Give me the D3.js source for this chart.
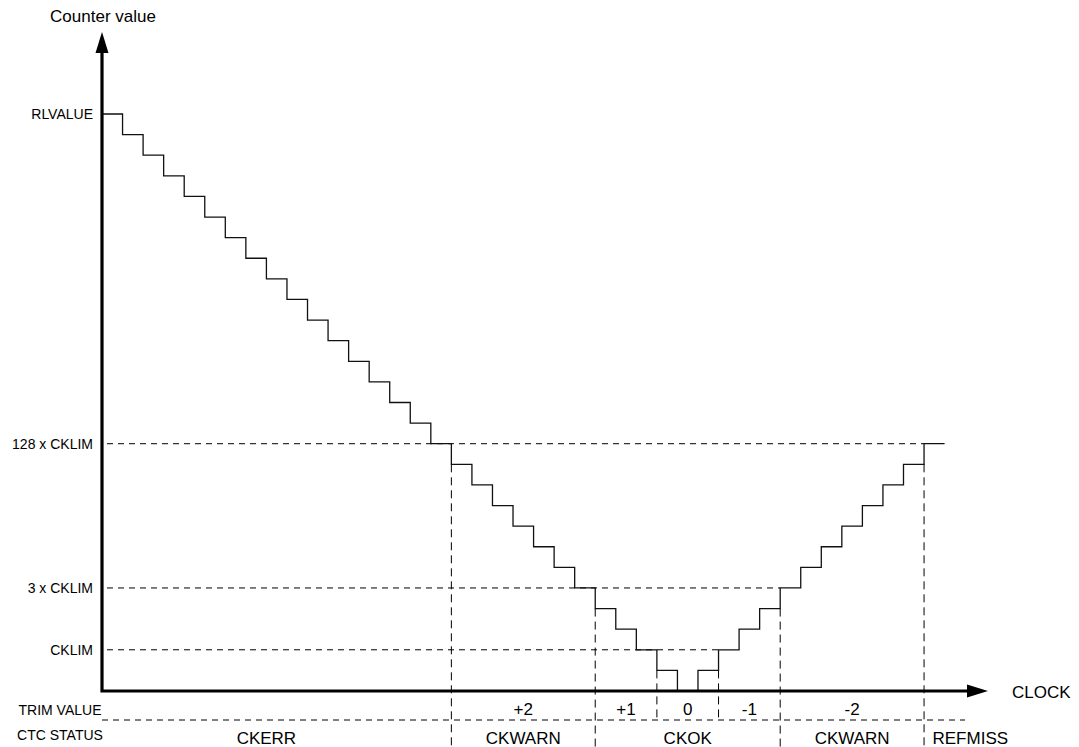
<!DOCTYPE html>
<html>
<head>
<meta charset="utf-8">
<script src="https://cdn.jsdelivr.net/npm/d3@7"></script>
<style>
  body { margin: 0; background: #fff; }
  text { font-family: "Liberation Sans", Arial, sans-serif; fill: #000; }
</style>
</head>
<body>
<div id="chart"></div>
<script>
// Counter value during each clock period (in steps of CKLIM-ish units)
const counterValues = [28, 27, 26, 25, 24, 23, 22, 21, 20, 19, 18, 17, 16, 15, 14, 13, 12,
  11, 10, 9, 8, 7, 6, 5,
  4, 3, 2, 1, 0,
  1, 2, 3, 4, 5, 6, 7, 8, 9, 10, 11,
  12];

// Named levels on the counter axis
const levelNames = ["CKLIM", "3 x CKLIM", "128 x CKLIM", "RLVALUE"];
const levelValues = [2, 5, 12, 28];
// clock index where each dashed level line meets the staircase
const levelEnds = [30, 33, 40, 0];

// Trim value zones (clock index boundaries)
const trimLabels = ["+2", "+1", "0", "-1", "-2"];
const trimStarts = [17, 24, 27, 30, 33];
const trimEnds = [24, 27, 30, 33, 40];

// CTC status zones
const statusLabels = ["CKERR", "CKWARN", "CKOK", "CKWARN", "REFMISS"];
const statusStarts = [-1, 17, 24, 33, 40];
const statusEnds = [17, 24, 33, 40, 44.5];

// boundaries running down through both rows vs only the trim row
const longBounds = [17, 24, 33, 40];
const shortBounds = [27, 30];

const W = 1079, H = 747;

const svg = d3.select("#chart")
  .append("svg")
    .attr("width", W)
    .attr("height", H);

const xScale = d3.scaleLinear()
  .domain([0, 41])
  .range([102, 944.6]);

const yScale = d3.scaleLinear()
  .domain([0, 28])
  .range([691, 114]);

const x0 = xScale(0), y0 = yScale(0);
const rowSep = 720;

// Dashed level lines
svg.append("g")
  .selectAll("line")
  .data(levelValues.slice(0, 3))
  .join("line")
    .attr("x1", x0 + 5)
    .attr("x2", (d, i) => xScale(levelEnds[i]))
    .attr("y1", d => yScale(d))
    .attr("y2", d => yScale(d))
    .attr("stroke", "#000")
    .attr("stroke-width", 1)
    .attr("stroke-dasharray", "6,5");

// Dashed vertical boundaries
function lowerLevel(k) {
  return Math.min(counterValues[k - 1], counterValues[k]);
}
svg.append("g")
  .selectAll("line")
  .data(longBounds)
  .join("line")
    .attr("x1", d => xScale(d))
    .attr("x2", d => xScale(d))
    .attr("y1", d => yScale(lowerLevel(d)))
    .attr("y2", H)
    .attr("stroke", "#000")
    .attr("stroke-dasharray", "8,5");

svg.append("g")
  .selectAll("line")
  .data(shortBounds)
  .join("line")
    .attr("x1", d => xScale(d))
    .attr("x2", d => xScale(d))
    .attr("y1", d => yScale(lowerLevel(d)))
    .attr("y2", rowSep)
    .attr("stroke", "#000")
    .attr("stroke-dasharray", "8,5");

// separator between trim value and ctc status rows
svg.append("line")
  .attr("x1", x0)
  .attr("x2", 965)
  .attr("y1", rowSep)
  .attr("y2", rowSep)
  .attr("stroke", "#000")
  .attr("stroke-dasharray", "6,5");

// Staircase
const points = counterValues.map((v, i) => [i, v]);
points.push([counterValues.length, counterValues[counterValues.length - 1]]);

svg.append("path")
  .datum(points)
  .attr("d", d3.line()
    .x(d => xScale(d[0]))
    .y(d => yScale(d[1]))
    .curve(d3.curveStepAfter))
  .attr("fill", "none")
  .attr("stroke", "#111")
  .attr("stroke-width", 1.3);

// Axes (thick with arrows)
svg.append("path")
  .attr("d", `M${x0},52 V${y0} H968`)
  .attr("fill", "none")
  .attr("stroke", "#000")
  .attr("stroke-width", 3.2)
  .attr("stroke-linejoin", "miter")
  .attr("stroke-linecap", "butt");

svg.append("path")
  .attr("d", `M${x0},32 L${x0 + 6.5},53 L${x0 - 6.5},53 Z`)
  .attr("fill", "#000");

svg.append("path")
  .attr("d", `M988,${y0} L967,${y0 - 6.5} L967,${y0 + 6.5} Z`)
  .attr("fill", "#000");

// Level labels via axis
const yAxis = svg.append("g")
  .attr("transform", `translate(${x0},0)`)
  .call(d3.axisLeft(yScale)
    .tickValues(levelValues)
    .tickFormat((d, i) => levelNames[i])
    .tickSize(0)
    .tickPadding(9));
yAxis.select(".domain").remove();
yAxis.selectAll("text")
  .style("font-family", "'Liberation Sans', Arial, sans-serif")
  .style("font-size", "14px")
  .attr("fill", "#000");

// Axis titles
svg.append("text")
  .attr("x", 103)
  .attr("y", 22)
  .attr("text-anchor", "middle")
  .style("font-size", "17px")
  .text("Counter value");

svg.append("text")
  .attr("x", 1012)
  .attr("y", 698)
  .style("font-size", "17px")
  .text("CLOCK");

// Row titles
svg.append("text")
  .attr("x", 60)
  .attr("y", 715)
  .attr("text-anchor", "middle")
  .style("font-size", "14px")
  .text("TRIM VALUE");

svg.append("text")
  .attr("x", 60)
  .attr("y", 740)
  .attr("text-anchor", "middle")
  .style("font-size", "14px")
  .text("CTC STATUS");

// Trim value labels
svg.append("g")
  .selectAll("text")
  .data(trimLabels)
  .join("text")
    .attr("x", (d, i) => (xScale(trimStarts[i]) + xScale(trimEnds[i])) / 2)
    .attr("y", 715)
    .attr("text-anchor", "middle")
    .style("font-size", "17px")
    .text(d => d);

// Status labels
svg.append("g")
  .selectAll("text")
  .data(statusLabels)
  .join("text")
    .attr("x", (d, i) => (xScale(statusStarts[i]) + xScale(statusEnds[i])) / 2)
    .attr("y", 744)
    .attr("text-anchor", "middle")
    .style("font-size", "17px")
    .text(d => d);
</script>
</body>
</html>
